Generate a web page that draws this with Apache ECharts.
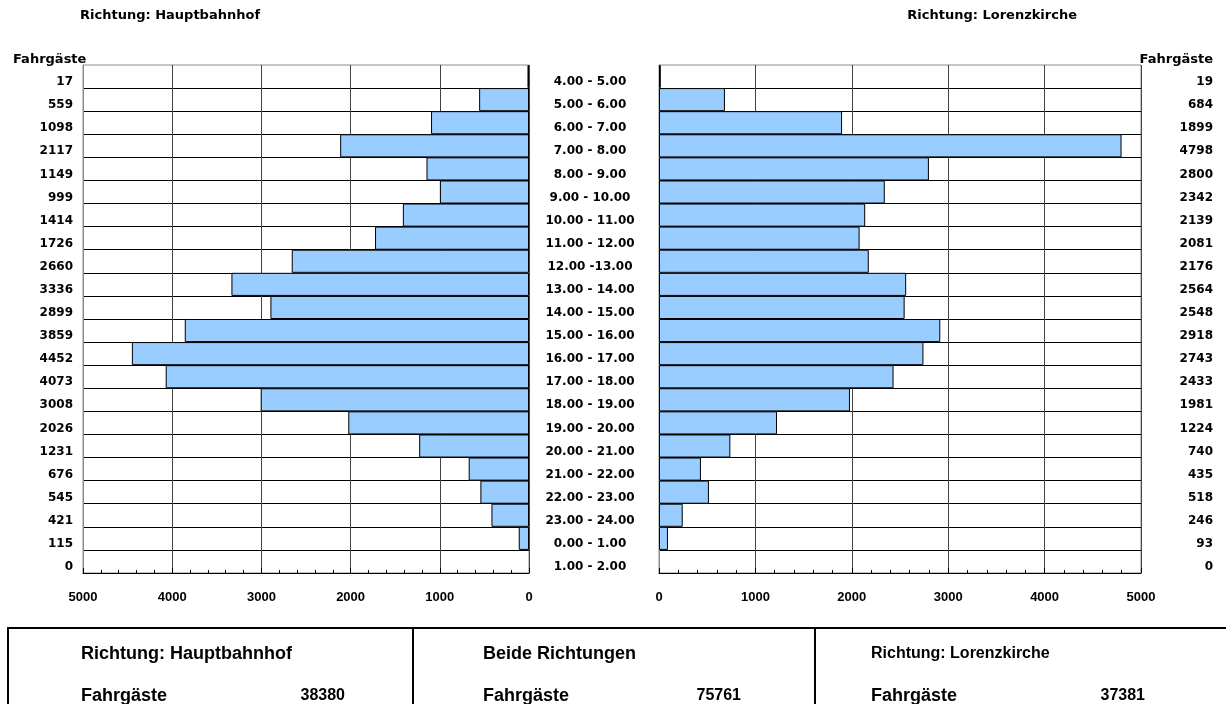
<!DOCTYPE html>
<html><head><meta charset="utf-8">
<script src="https://cdn.jsdelivr.net/npm/echarts@6/dist/echarts.min.js"></script>
<style>html,body{margin:0;padding:0;background:#fff}#c{width:1226px;height:704px}</style>
</head><body><div id="c"></div>
<script>
const timeSlots = ['4.00 - 5.00','5.00 - 6.00','6.00 - 7.00','7.00 - 8.00','8.00 - 9.00','9.00 - 10.00','10.00 - 11.00','11.00 - 12.00','12.00 -13.00','13.00 - 14.00','14.00 - 15.00','15.00 - 16.00','16.00 - 17.00','17.00 - 18.00','18.00 - 19.00','19.00 - 20.00','20.00 - 21.00','21.00 - 22.00','22.00 - 23.00','23.00 - 24.00','0.00 - 1.00','1.00 - 2.00'];
const hauptbahnhof = [17,559,1098,2117,1149,999,1414,1726,2660,3336,2899,3859,4452,4073,3008,2026,1231,676,545,421,115,0];
const lorenzkirche = [19,684,1899,4798,2800,2342,2139,2081,2176,2564,2548,2918,2743,2433,1981,1224,740,435,518,246,93,0];
const axisTicks = [0,1000,2000,3000,4000,5000];

const F = 'Liberation Sans, Arial, sans-serif';
const FW = 'DejaVu Sans, sans-serif';
const sumH = hauptbahnhof.reduce((a,b)=>a+b,0);
const sumL = lorenzkirche.reduce((a,b)=>a+b,0);

const chart = echarts.init(document.getElementById('c'), null, {renderer:'canvas'});
const gridCommon = {top:65, height:508, show:true, borderColor:'#8c8c8c', borderWidth:1, backgroundColor:'#fff'};
function xAx(idx, inverse){
  return {gridIndex:idx, type:'value', inverse:inverse, min:axisTicks[0], max:axisTicks[axisTicks.length-1], interval:1000,
    axisLine:{show:true, onZero:false, lineStyle:{color:'#000', width:1}},
    axisTick:{show:true, inside:true, length:5, lineStyle:{color:'#000'}},
    minorTick:{show:true, splitNumber:5, length:3, lineStyle:{color:'#000'}},
    splitLine:{show:true, lineStyle:{color:'#444', width:1}},
    axisLabel:{margin:18, fontFamily:F, fontWeight:'bold', fontSize:13, color:'#000', formatter:v=>String(v)}};
}
const lblBase = {fontFamily:FW, fontWeight:'bold', fontSize:12, color:'#000', verticalAlign:'top', lineHeight:11};
const option = {
  animation:false,
  grid:[Object.assign({left:83, width:446}, gridCommon), Object.assign({left:659, width:482}, gridCommon)],
  xAxis:[xAx(0,true), xAx(1,false)],
  yAxis:[
    {gridIndex:0, type:'category', data:timeSlots, inverse:true, position:'left',
      axisLine:{show:true, onZero:false, lineStyle:{color:'#8c8c8c'}}, axisTick:{show:false},
      axisLabel:Object.assign({margin:10, formatter:(v,i)=>String(hauptbahnhof[i])}, lblBase),
      splitLine:{show:true, showMinLine:false, showMaxLine:false, lineStyle:{color:'#000', width:1}}},
    {gridIndex:0, type:'category', data:timeSlots, inverse:true, position:'right',
      axisLine:{show:false}, axisTick:{show:false}, splitLine:{show:false},
      axisLabel:Object.assign({margin:61, align:'center'}, lblBase)},
    {gridIndex:1, type:'category', data:timeSlots, inverse:true, position:'left',
      axisLine:{show:true, onZero:false, lineStyle:{color:'#8c8c8c'}}, axisTick:{show:false}, axisLabel:{show:false},
      splitLine:{show:true, showMinLine:false, showMaxLine:false, lineStyle:{color:'#000', width:1}}},
    {gridIndex:1, type:'category', data:timeSlots, inverse:true, position:'right',
      axisLine:{show:false}, axisTick:{show:false}, splitLine:{show:false},
      axisLabel:Object.assign({margin:72, align:'right', formatter:(v,i)=>String(lorenzkirche[i])}, lblBase)}
  ],
  series:[
    {type:'bar', xAxisIndex:0, yAxisIndex:0, data:hauptbahnhof.map(v=>v===0?'-':v), barCategoryGap:'0%',
      itemStyle:{color:'#99CCFF', borderColor:'#000', borderWidth:1}},
    {type:'bar', xAxisIndex:1, yAxisIndex:2, data:lorenzkirche.map(v=>v===0?'-':v), barCategoryGap:'0%',
      itemStyle:{color:'#99CCFF', borderColor:'#000', borderWidth:1}}
  ],
  graphic:[
    {type:'text', x:80, y:16, style:{text:'Richtung: Hauptbahnhof', font:'bold 13px '+FW, fill:'#000', verticalAlign:'middle'}},
    {type:'text', x:1077, y:16, style:{text:'Richtung: Lorenzkirche', font:'bold 13px '+FW, fill:'#000', align:'right', verticalAlign:'middle'}},
    {type:'text', x:13, y:60, style:{text:'Fahrgäste', font:'bold 13px '+FW, fill:'#000', verticalAlign:'middle'}},
    {type:'text', x:1213, y:60, style:{text:'Fahrgäste', font:'bold 13px '+FW, fill:'#000', align:'right', verticalAlign:'middle'}},
    {type:'rect', shape:{x:8, y:628, width:1240, height:100}, style:{fill:'none', stroke:'#000', lineWidth:2}},
    {type:'line', shape:{x1:413, y1:628, x2:413, y2:720}, style:{stroke:'#000', lineWidth:2}},
    {type:'line', shape:{x1:815, y1:628, x2:815, y2:720}, style:{stroke:'#000', lineWidth:2}},
    {type:'text', x:81, y:654, style:{text:'Richtung: Hauptbahnhof', font:'bold 18px '+F, fill:'#000', verticalAlign:'middle'}},
    {type:'text', x:483, y:654, style:{text:'Beide Richtungen', font:'bold 18px '+F, fill:'#000', verticalAlign:'middle'}},
    {type:'text', x:871, y:654, style:{text:'Richtung: Lorenzkirche', font:'bold 16px '+F, fill:'#000', verticalAlign:'middle'}},
    {type:'text', x:81, y:696, style:{text:'Fahrgäste', font:'bold 18px '+F, fill:'#000', verticalAlign:'middle'}},
    {type:'text', x:483, y:696, style:{text:'Fahrgäste', font:'bold 18px '+F, fill:'#000', verticalAlign:'middle'}},
    {type:'text', x:871, y:696, style:{text:'Fahrgäste', font:'bold 18px '+F, fill:'#000', verticalAlign:'middle'}},
    {type:'text', x:345, y:696, style:{text:String(sumH), font:'bold 16px '+F, fill:'#000', align:'right', verticalAlign:'middle'}},
    {type:'text', x:741, y:696, style:{text:String(sumH+sumL), font:'bold 16px '+F, fill:'#000', align:'right', verticalAlign:'middle'}},
    {type:'text', x:1145, y:696, style:{text:String(sumL), font:'bold 16px '+F, fill:'#000', align:'right', verticalAlign:'middle'}}
  ]
};
chart.setOption(option);
</script></body></html>
